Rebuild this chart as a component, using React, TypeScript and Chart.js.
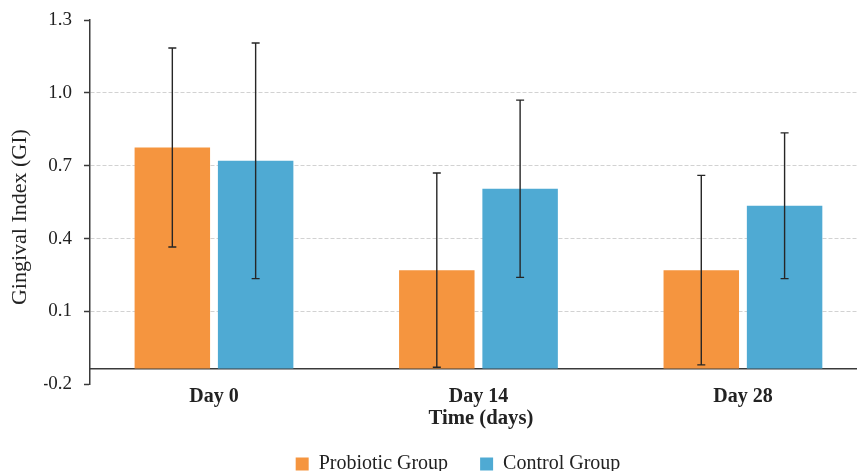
import React, { useEffect, useRef } from 'react';
import { Chart, registerables } from 'chart.js';

Chart.register(...registerables);

// ---- data ----
const CATEGORIES = ['Day 0', 'Day 14', 'Day 28'];
const SERIES_NAMES = ['Probiotic Group', 'Control Group'];
const PROBIOTIC_MEAN = [0.775, 0.27, 0.27];
const PROBIOTIC_SD = [0.41, 0.4, 0.39];
const CONTROL_MEAN = [0.72, 0.605, 0.535];
const CONTROL_SD = [0.485, 0.365, 0.3];
const Y_TICKS = [-0.2, 0.1, 0.4, 0.7, 1.0, 1.3];
const BASELINE = -0.135;
const X_TITLE = 'Time (days)';
const Y_TITLE = 'Gingival Index (GI)';

// ---- styles ----
const SERIF = "'Liberation Serif', 'Times New Roman', 'DejaVu Serif', serif";
const ORANGE = '#F5953F';
const BLUE = '#4FAAD3';
const AXIS = '#3a3a3a';
const TEXT = '#222222';
const GRID = '#d2d2d2';

export default function App() {
  const ref = useRef<HTMLCanvasElement | null>(null);

  useEffect(() => {
    if (!ref.current) return;
    const means = [PROBIOTIC_MEAN, CONTROL_MEAN];
    const sds = [PROBIOTIC_SD, CONTROL_SD];

    const errorBars = {
      id: 'errorBars',
      afterDatasetsDraw(chart: any) {
        const ctx = chart.ctx;
        const y = chart.scales.y;
        ctx.save();
        ctx.strokeStyle = '#262626';
        ctx.lineWidth = 1.4;
        chart.data.datasets.forEach((_: any, di: number) => {
          const meta = chart.getDatasetMeta(di);
          meta.data.forEach((bar: any, i: number) => {
            const hi = y.getPixelForValue(means[di][i] + sds[di][i]);
            const lo = y.getPixelForValue(means[di][i] - sds[di][i]);
            const x = bar.x;
            ctx.beginPath();
            ctx.moveTo(x, hi);
            ctx.lineTo(x, lo);
            ctx.moveTo(x - 4, hi);
            ctx.lineTo(x + 4, hi);
            ctx.moveTo(x - 4, lo);
            ctx.lineTo(x + 4, lo);
            ctx.stroke();
          });
        });
        ctx.restore();
      },
    };

    const yTitle = {
      id: 'yTitle',
      afterDraw(chart: any) {
        const ctx = chart.ctx;
        const area = chart.chartArea;
        ctx.save();
        ctx.translate(20, (area.top + area.bottom) / 2 + 15);
        ctx.rotate(-Math.PI / 2);
        ctx.font = `22px ${SERIF}`;
        ctx.fillStyle = TEXT;
        ctx.textAlign = 'center';
        ctx.textBaseline = 'middle';
        ctx.fillText(Y_TITLE, 0, 0);
        ctx.restore();
      },
    };

    const makeData = (vals: number[]) => CATEGORIES.map((_, i) => ({ x: i, y: vals[i] }));

    const chart = new Chart(ref.current, {
      type: 'bar',
      data: {
        datasets: [
          {
            label: SERIES_NAMES[0],
            data: makeData(PROBIOTIC_MEAN),
            backgroundColor: ORANGE,
            borderWidth: 0,
            base: BASELINE,
            categoryPercentage: 0.63,
            barPercentage: 0.906,
          } as any,
          {
            label: SERIES_NAMES[1],
            data: makeData(CONTROL_MEAN),
            backgroundColor: BLUE,
            borderWidth: 0,
            base: BASELINE,
            categoryPercentage: 0.63,
            barPercentage: 0.906,
          } as any,
        ],
      },
      options: {
        animation: false,
        responsive: true,
        maintainAspectRatio: false,
        layout: { padding: { left: 44, top: 20, right: 0, bottom: -13 } },
        scales: {
          x: {
            type: 'linear',
            min: -0.4688,
            max: 2.488,
            offset: false,
            position: { y: BASELINE } as any,
            grid: { display: false },
            border: { display: true, color: AXIS, width: 1.5 },
            afterBuildTicks: (s: any) => {
              s.ticks = CATEGORIES.map((_, i) => ({ value: i }));
            },
            ticks: {
              autoSkip: false,
              maxRotation: 0,
              padding: 8,
              color: TEXT,
              font: { family: SERIF, size: 20, weight: 'bold' },
              callback: (v: any) => CATEGORIES[Number(v)] ?? '',
            },
          },
          y: {
            min: -0.2,
            max: 1.3,
            afterBuildTicks: (s: any) => {
              s.ticks = Y_TICKS.map((v) => ({ value: v }));
            },
            afterFit: (s: any) => {
              s.width = 46;
            },
            grid: {
              color: (c: any) => {
                const v = c.tick ? c.tick.value : 0;
                return Math.abs(v - Y_TICKS[0]) < 1e-6 || Math.abs(v - Y_TICKS[Y_TICKS.length - 1]) < 1e-6
                  ? 'rgba(0,0,0,0)'
                  : GRID;
              },
              lineWidth: 1,
              tickColor: AXIS,
              tickLength: 6,
              tickWidth: 1.5,
            },
            border: { display: true, color: AXIS, width: 1.5, dash: [4, 2] },
            ticks: {
              padding: 12,
              color: TEXT,
              font: { family: SERIF, size: 19, lineHeight: 0.8 },
              callback: (v: any) => Number(v).toFixed(1),
            },
          },
        },
        plugins: {
          legend: {
            position: 'bottom',
            labels: {
              boxWidth: 13,
              boxHeight: 13,
              padding: 32,
              color: TEXT,
              font: { family: SERIF, size: 20 },
            },
          },
          title: {
            display: true,
            text: X_TITLE,
            position: 'bottom',
            fullSize: false,
            weight: 500,
            color: TEXT,
            font: { family: SERIF, size: 20.7, weight: 'bold' },
            padding: { top: 22, bottom: -9.1 },
          } as any,
          tooltip: { enabled: false },
        },
      },
      plugins: [errorBars, yTitle],
    });

    return () => chart.destroy();
  }, []);

  return (
    <div style={{ position: 'fixed', left: 0, top: 0, width: 857, height: 471, background: '#fff', overflow: 'hidden' }}>
      <div style={{ position: 'relative', width: 872, height: 471 }}>
        <canvas ref={ref} />
      </div>
    </div>
  );
}
